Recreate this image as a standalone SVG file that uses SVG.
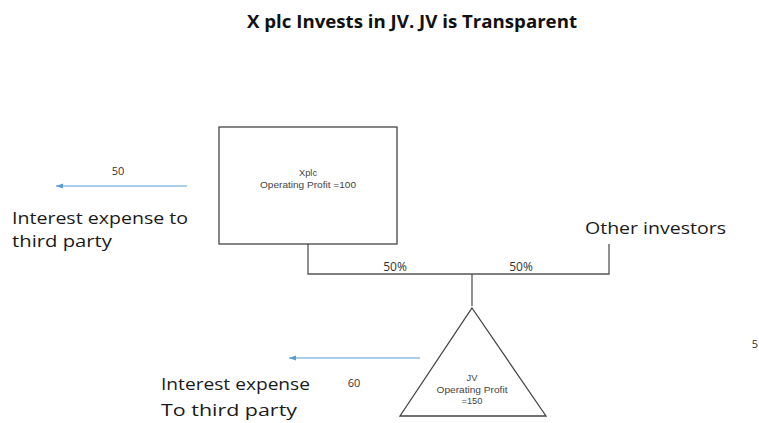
<svg xmlns="http://www.w3.org/2000/svg" width="759" height="423" viewBox="0 0 759 423">
<style>
text{font-family:"Open Sans","Liberation Sans",sans-serif;fill:#222}
.big{font-size:17px;fill:#1a1a1a}
.sm{font-family:"Liberation Sans",Arial,sans-serif;font-size:9.3px;fill:#444}
.num{font-size:11px;fill:#333}
.pct{font-size:12px;fill:#333}
.shape{fill:#fff;stroke:#444;stroke-width:1.3}
.line{fill:none;stroke:#555;stroke-width:1.3}
.blue{stroke:#5b9bd5;stroke-width:1.2;fill:none}
</style>
<defs>
<marker id="ah" markerWidth="8" markerHeight="8" refX="7" refY="4" orient="auto" markerUnits="userSpaceOnUse">
<path d="M0,1.5 L7,4 L0,6.5 Z" fill="#5b9bd5"/>
</marker>
</defs>
<rect width="759" height="423" fill="#fff"/>
<text x="412" y="28" text-anchor="middle" textLength="330" lengthAdjust="spacingAndGlyphs" style="font-weight:bold;font-size:17px;fill:#111">X plc Invests in JV. JV is Transparent</text>
<g id="connectors">
<polyline class="line" points="308,244 308,274 609,274 609,244"/>
<line class="line" x1="472" y1="274" x2="472" y2="306"/>
<line class="blue" x1="187" y1="186" x2="56" y2="186" marker-end="url(#ah)"/>
<line class="blue" x1="420" y1="358" x2="289" y2="358" marker-end="url(#ah)"/>
</g>
<g id="xplc">
<rect class="shape" x="219" y="127" width="178" height="117"/>
<text class="sm" x="308" y="176" text-anchor="middle">Xplc</text>
<text class="sm" x="308" y="188" text-anchor="middle" textLength="96" lengthAdjust="spacingAndGlyphs">Operating Profit =100</text>
</g>
<g id="jv">
<polygon class="shape" points="472,308 546,416 400,416"/>
<text class="sm" x="472" y="381" text-anchor="middle">JV</text>
<text class="sm" x="472" y="393" text-anchor="middle" textLength="71" lengthAdjust="spacingAndGlyphs">Operating Profit</text>
<text class="sm" x="472" y="404" text-anchor="middle">=150</text>
</g>
<g id="labels">
<text class="num" x="118" y="175" text-anchor="middle">50</text>
<text class="big" x="12" y="224" textLength="176" lengthAdjust="spacingAndGlyphs">Interest expense to</text>
<text class="big" x="12" y="247" textLength="100" lengthAdjust="spacingAndGlyphs">third party</text>
<text class="pct" x="395" y="271" text-anchor="middle">50%</text>
<text class="pct" x="521" y="271" text-anchor="middle">50%</text>
<text class="big" x="585" y="234" textLength="141" lengthAdjust="spacingAndGlyphs">Other investors</text>
<text class="num" x="755" y="348" text-anchor="middle">5</text>
<text class="big" x="161" y="390" textLength="149" lengthAdjust="spacingAndGlyphs">Interest expense</text>
<text class="big" x="161" y="416" textLength="136" lengthAdjust="spacingAndGlyphs">To third party</text>
<text class="num" x="354" y="387" text-anchor="middle">60</text>
</g>
</svg>
